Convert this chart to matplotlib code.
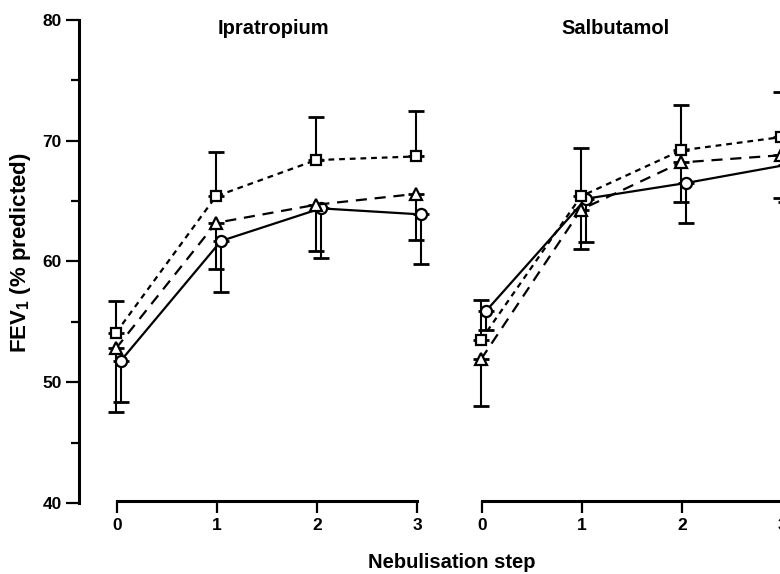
import matplotlib
matplotlib.use("Agg")
import matplotlib.pyplot as plt
from matplotlib.ticker import MultipleLocator

plt.rcParams["font.family"] = ["Liberation Sans", "DejaVu Sans"]
plt.rcParams["mathtext.default"] = "regular"

# nebulisation steps
steps = [0, 1, 2, 3]

# Ipratropium panel
ipra_sq = [54.1, 65.4, 68.4, 68.7]
ipra_sq_up = [56.7, 69.1, 72.0, 72.5]
ipra_tri = [52.8, 63.2, 64.7, 65.6]
ipra_tri_lo = [47.5, 59.4, 60.9, 61.8]
ipra_circ = [51.8, 61.7, 64.4, 63.9]
ipra_circ_lo = [48.4, 57.5, 60.3, 59.8]

# Salbutamol panel
salb_sq = [53.5, 65.4, 69.2, 70.3]
salb_sq_up = [56.8, 69.4, 73.0, 74.0]
salb_tri = [51.9, 64.3, 68.2, 68.8]
salb_tri_lo = [48.0, 61.0, 64.9, 65.3]
salb_circ = [55.9, 65.2, 66.5, 68.0]
salb_circ_lo = [54.3, 61.6, 63.2, 64.9]

titles = ["Ipratropium", "Salbutamol"]

W, H = 780, 574
fig = plt.figure(figsize=(W / 100, H / 100), dpi=100)

# axes positions in pixels: data x=0 at 117 / 482, 100 px per step; y 40..80 -> 503..20
ax1 = fig.add_axes([79 / W, 1 - 503 / H, 368 / W, 483 / H])
ax2 = fig.add_axes([452 / W, 1 - 503 / H, 360 / W, 483 / H])
ax1.set_xlim(-0.38, 3.3)
ax2.set_xlim(-0.3, 3.3)


def draw_series(ax, x, y, err, up, marker, dashes, ms):
    if up:
        yerr = [[0] * len(y), [e - v for e, v in zip(err, y)]]
    else:
        yerr = [[v - e for e, v in zip(err, y)], [0] * len(y)]
    ax.errorbar(x, y, yerr=yerr, fmt="none", ecolor="black", elinewidth=1.5,
                capsize=6, capthick=2, clip_on=False, zorder=2)
    line, = ax.plot(x, y, color="black", lw=1.6, marker=marker, ms=ms,
                    mfc="white", mec="black", mew=1.6, clip_on=False, zorder=3)
    if dashes is not None:
        line.set_dashes(dashes)


panels = [
    (ax1, ipra_sq, ipra_sq_up, ipra_tri, ipra_tri_lo, ipra_circ, ipra_circ_lo),
    (ax2, salb_sq, salb_sq_up, salb_tri, salb_tri_lo, salb_circ, salb_circ_lo),
]

for ax, sq, sq_up, tri, tri_lo, circ, circ_lo in panels:
    xs_sq = [s - 0.01 for s in steps]
    xs_tri = [s - 0.01 for s in steps]
    xs_circ = [s + 0.04 for s in steps]
    draw_series(ax, xs_circ, circ, circ_lo, False, "o", None, 8)
    draw_series(ax, xs_tri, tri, tri_lo, False, "^", (5, 3.5), 8)
    draw_series(ax, xs_sq, sq, sq_up, True, "s", (2.6, 2.2), 7.5)

    ax.set_ylim(40, 80)
    for s in ["top", "right"]:
        ax.spines[s].set_visible(False)
    ax.spines["bottom"].set_bounds(0, 3)
    ax.spines["bottom"].set_linewidth(2.2)
    ax.spines["bottom"].set_position(("outward", -1.5))
    ax.set_xticks(steps)
    ax.set_xticklabels([str(s) for s in steps], fontsize=12.5, fontweight="bold")
    ax.tick_params(axis="x", direction="out", length=8.5, width=1.6, pad=4)

for lbl in ax2.get_xticklabels():
    lbl.set_clip_on(False)

ax2.spines["left"].set_visible(False)
ax2.set_yticks([])

ax1.spines["left"].set_bounds(40, 80)
ax1.spines["left"].set_linewidth(2.2)
ax1.set_yticks([40, 50, 60, 70, 80])
ax1.set_yticklabels(["40", "50", "60", "70", "80"], fontsize=12.5, fontweight="bold")
ax1.yaxis.set_minor_locator(MultipleLocator(5))
ax1.tick_params(axis="y", which="major", direction="out", length=9.5, width=1.6, pad=3)
ax1.tick_params(axis="y", which="minor", direction="out", length=6, width=1.6)

ax1.text(1.56, 79.3, titles[0], ha="center", va="center", fontsize=14.5,
         fontweight="bold")
ax2.text(1.33, 79.3, titles[1], ha="center", va="center", fontsize=14.5,
         fontweight="bold")

fig.text(452 / W, 1 - 562 / H, "Nebulisation step", ha="center", va="center",
         fontsize=14.5, fontweight="bold")
fig.text(21 / W, 1 - 253 / H, "FEV$_1$ (% predicted)", ha="center", va="center",
         rotation=90, fontsize=16, fontweight="bold")

fig.savefig("out.png", dpi=100)
